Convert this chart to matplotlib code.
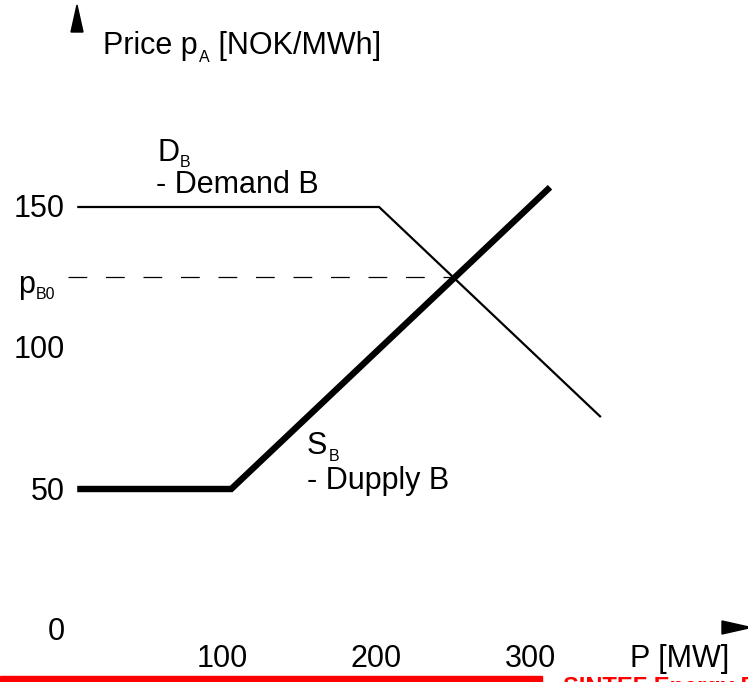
import matplotlib
matplotlib.use('Agg')
import matplotlib.pyplot as plt
from matplotlib.patches import Polygon, Rectangle

plt.rcParams['font.family'] = ['Liberation Sans', 'DejaVu Sans']
plt.rcParams['lines.scale_dashes'] = False

# ---- data ----
supply_mw = [6, 106, 313]
supply_price = [50, 50, 157]
demand_mw = [6, 202, 346]
demand_price = [150, 150, 75.5]
equilibrium_mw = 251
equilibrium_price = 125
price_ticks = [150, 100, 50, 0]
price_tick_labels = ['150', '100', '50', '0']
mw_ticks = [100, 200, 300]
mw_tick_labels = ['100', '200', '300']

# ---- figure ----
W, H = 748, 682
fig = plt.figure(figsize=(W / 100, H / 100), dpi=100)
ax = fig.add_axes([0, 0, 1, 1])
X0, XS, Y0, YS = 68, 1.54, 630, 2.82   # pixel origin and pixels per unit
ax.set_xlim(-X0 / XS, (W - X0) / XS)
ax.set_ylim(-(H - Y0) / YS, Y0 / YS)
ax.axis('off')


def fx(px):
    return px / W


def fy(py):
    return 1 - py / H


FS = 22
SUBFS = 11.5

# lines
ax.plot(demand_mw, demand_price, color='black', lw=1.6,
        solid_capstyle='butt', solid_joinstyle='miter')
ax.plot(supply_mw, supply_price, color='black', lw=4.6,
        solid_capstyle='butt', solid_joinstyle='miter')
ax.plot([0, equilibrium_mw], [equilibrium_price, equilibrium_price],
        color='black', lw=0.9, dashes=(13.5, 13.5))

# tick labels
base_off = 10.5 / YS
for v, lab in zip(price_ticks, price_tick_labels):
    ax.text((65 - X0) / XS, v - base_off, lab, fontsize=FS,
            ha='right', va='baseline')
for v, lab in zip(mw_ticks, mw_tick_labels):
    ax.text(v, (Y0 - 667) / YS, lab, fontsize=FS, ha='center', va='baseline')

renderer = fig.canvas.get_renderer()


def sub_label(x_px, base_px, main, sub, drop=7, gap=1, rest=None):
    t = fig.text(fx(x_px), fy(base_px), main, fontsize=FS,
                 ha='left', va='baseline')
    bb = t.get_window_extent(renderer)
    s = fig.text((bb.x1 + gap) / W, fy(base_px + drop), sub, fontsize=SUBFS,
                 ha='left', va='baseline')
    if rest is not None:
        bb2 = s.get_window_extent(renderer)
        fig.text((bb2.x1 + 1) / W, fy(base_px), rest, fontsize=FS,
                 ha='left', va='baseline')


sub_label(103, 54, 'Price p', 'A', drop=8, rest=' [NOK/MWh]')
sub_label(18, 293, 'p', 'B0', drop=6)
sub_label(157, 161, 'D', 'B', drop=6)
fig.text(fx(156), fy(193), '- Demand B', fontsize=FS, ha='left', va='baseline')
sub_label(307, 454, 'S', 'B', drop=7)
fig.text(fx(307), fy(489), '- Dupply B', fontsize=FS, ha='left', va='baseline')
fig.text(fx(630), fy(667), 'P [MW]', fontsize=FS, ha='left', va='baseline')

# axis arrows
fig.patches.append(Polygon([(fx(71), fy(32)), (fx(83), fy(32)), (fx(77), fy(5))],
                           closed=True, color='black', transform=fig.transFigure))
fig.patches.append(Polygon([(fx(722), fy(621)), (fx(722), fy(634)), (fx(751), fy(627.5))],
                           closed=True, color='black', transform=fig.transFigure))

# red footer bar and text
fig.patches.append(Rectangle((0, 0), fx(542), (H - 676) / H, color='#ff0000',
                             transform=fig.transFigure))
fig.text(fx(563), fy(676), 'SINTEF Energy Research', fontsize=17,
         fontweight='bold', color='#ff0000', ha='left', va='top')

fig.savefig('out.png', dpi=100)
